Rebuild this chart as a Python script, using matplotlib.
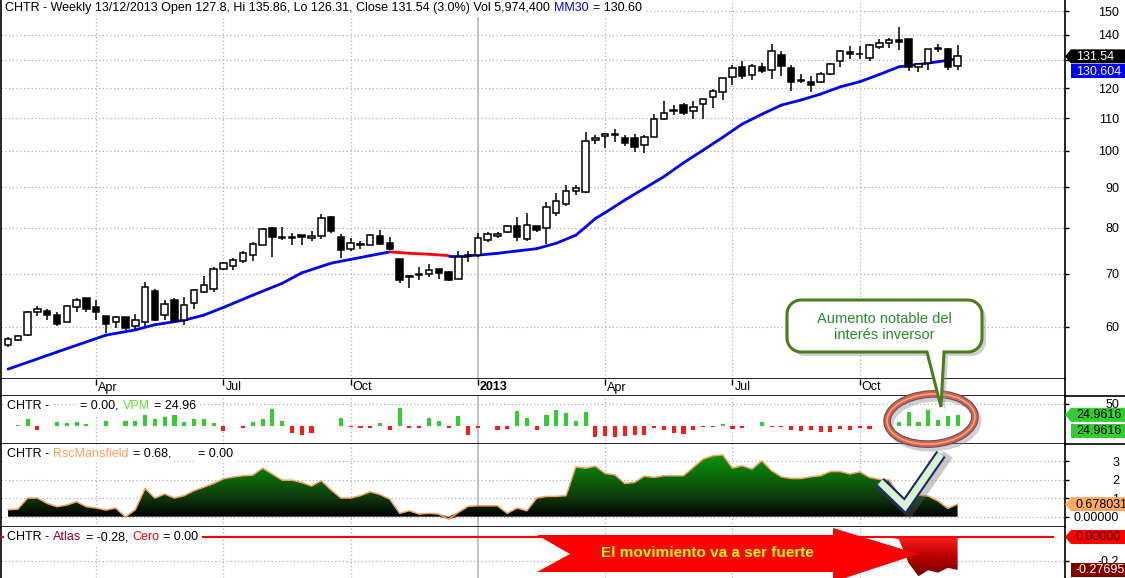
import numpy as np
import pandas as pd
import matplotlib
matplotlib.use("Agg")
import matplotlib.pyplot as plt
from matplotlib.patches import Polygon, Ellipse
from matplotlib.colors import LinearSegmentedColormap
from matplotlib.ticker import NullLocator, NullFormatter

plt.rcParams['font.family'] = ['Liberation Sans', 'DejaVu Sans']

W, H = 1125, 578

# CHTR weekly bars (Fridays, 3 Feb 2012 .. 13 Dec 2013)
dates = pd.date_range('2012-02-03', '2013-12-13', freq='W-FRI')

opens = [56.9, 57.7, 58.6, 62.6, 62.9, 62.2, 60.9, 63.6, 65.2, 63.5,
         61.9, 60.9, 61.7, 60.1, 60.9, 66.6, 62.1, 64.8, 61.3, 64.3,
         66.4, 67.0, 71.0, 71.7, 72.7, 73.9, 76.2, 80.0, 77.7, 77.8,
         78.3, 77.6, 78.2, 82.6, 77.8, 75.3, 76.3, 76.1, 78.1, 76.6,
         73.0, 69.3, 69.7, 70.0, 70.9, 70.4, 69.0, 73.7, 73.9, 77.2,
         78.2, 79.1, 80.4, 77.5, 80.4, 79.9, 83.5, 85.7, 88.9, 88.7,
         103.1, 104.3, 104.7, 103.8, 103.8, 101.6, 104.1, 109.6, 112.3, 114.2,
         112.2, 114.5, 117.0, 118.5, 123.9, 127.6, 124.5, 127.6, 126.4, 132.1,
         127.2, 122.6, 122.2, 122.1, 124.8, 129.6, 133.2, 132.4, 131.1, 135.1,
         136.8, 137.9, 138.2, 127.5, 129.0, 134.5, 134.3, 127.8]
highs = [58.3, 58.7, 62.9, 63.7, 63.3, 62.7, 63.9, 65.2, 65.3, 64.8,
         62.0, 62.0, 61.8, 62.3, 68.3, 66.9, 64.9, 65.2, 65.4, 66.9,
         69.6, 71.5, 72.5, 73.3, 74.8, 76.8, 80.0, 80.2, 80.2, 78.7,
         78.4, 79.3, 83.2, 82.7, 78.5, 77.6, 77.0, 78.5, 79.6, 78.0,
         73.1, 69.8, 71.5, 72.1, 71.0, 70.5, 74.8, 74.9, 78.7, 79.0,
         79.0, 80.7, 82.6, 83.4, 80.5, 86.2, 88.6, 90.6, 90.5, 105.6,
         104.8, 105.3, 106.5, 104.8, 105.1, 104.8, 111.2, 115.7, 114.3, 114.8,
         115.4, 116.3, 119.8, 123.7, 128.1, 129.7, 128.8, 129.2, 136.3, 133.6,
         128.1, 125.1, 124.1, 125.6, 129.0, 134.0, 135.6, 135.6, 136.3, 138.3,
         138.6, 143.3, 138.4, 129.0, 134.4, 136.5, 134.6, 135.86]
lows = [56.6, 57.6, 58.4, 62.0, 61.2, 60.2, 60.8, 62.7, 62.6, 61.2,
        58.9, 59.9, 59.4, 59.7, 60.1, 61.1, 61.3, 61.0, 60.3, 63.3,
        66.3, 66.4, 70.7, 70.7, 72.3, 72.7, 76.1, 73.6, 77.3, 76.2,
        76.0, 76.9, 77.5, 78.7, 73.3, 74.8, 75.2, 76.0, 76.2, 75.1,
        68.1, 67.1, 68.7, 69.4, 68.9, 68.6, 68.9, 72.5, 73.4, 76.7,
        77.7, 78.7, 76.9, 76.9, 79.1, 76.4, 82.8, 85.2, 88.0, 88.6,
        102.1, 100.8, 102.7, 101.3, 99.8, 99.4, 104.0, 109.5, 111.0, 111.0,
        109.6, 109.8, 113.4, 115.9, 121.0, 123.3, 123.0, 125.5, 123.3, 124.4,
        119.1, 121.9, 118.7, 121.9, 124.7, 127.5, 130.6, 130.6, 129.7, 134.5,
        134.6, 133.8, 126.0, 125.8, 126.4, 133.3, 126.4, 126.31]
closes = [57.9, 58.4, 62.6, 63.3, 62.2, 60.6, 63.8, 64.8, 63.2, 62.6,
          60.6, 61.7, 59.9, 61.3, 67.4, 61.3, 64.1, 61.1, 64.0, 66.8,
          67.8, 70.9, 72.2, 72.8, 74.3, 76.3, 79.8, 77.9, 77.9, 77.7,
          77.8, 78.1, 82.4, 79.2, 75.1, 76.5, 76.0, 78.4, 76.4, 75.2,
          68.7, 69.5, 69.9, 70.8, 70.2, 68.7, 73.5, 73.9, 77.6, 78.5,
          78.6, 80.5, 77.9, 80.6, 79.4, 84.9, 86.4, 88.9, 89.9, 102.9,
          103.8, 105.0, 104.9, 102.3, 101.0, 104.1, 109.6, 111.6, 112.6, 111.6,
          113.5, 116.2, 119.1, 123.6, 127.1, 124.1, 128.0, 126.0, 133.5, 127.9,
          122.1, 122.8, 121.0, 124.8, 128.5, 133.5, 132.5, 132.6, 135.8, 136.8,
          137.9, 137.2, 127.5, 128.5, 134.3, 134.7, 127.5, 131.54]

# MM30 read at these bar numbers
ma_idx = [0, 5, 10, 13, 15, 18, 20, 22, 25, 28, 30, 33, 35, 37, 39, 41, 43, 45, 47, 48,
          50, 52, 54, 56, 58, 59, 60, 61, 63, 65, 67, 69, 71, 73, 75, 77, 79, 81, 83, 85,
          87, 89, 91, 93, 95, 97]
ma_val = [53.1, 55.8, 58.6, 59.5, 60.4, 61.2, 62.1, 63.5, 65.8, 68.1, 70.2, 72.2, 73.0, 73.8,
          74.6, 74.3, 74.1, 73.8, 73.8, 73.9, 74.3, 74.8, 75.3, 76.5, 78.3, 80.2, 82.2, 83.6,
          86.7, 89.7, 92.8, 96.6, 100.2, 104.0, 108.1, 111.2, 114.2, 115.9, 117.9, 120.4,
          122.2, 124.8, 127.6, 128.5, 129.5, 130.6]

vpm = [-1.5, 2, 15, -9, 0, 7.7, 6, 8.4, 3.8, -1.5,
       10.8, 0, 10.8, 10.8, 29, 15.4, 20, 29, 7.7, 15.4,
       15.4, 6.1, -11.5, -1.5, -4.6, 8.4, 15.4, 38.4, 10.8, -16,
       -20.7, -16, -1.5, -1.5, 17.7, -2, -4.6, -4.6, 6.1, -9.2,
       40.7, -4.6, -4.6, 17.7, 10.8, -6.1, 22.3, -20.7, -4.6, -1.5,
       -9.2, -7, 34.6, 17.7, -9.2, 24.6, 36.9, 30, 11.5, 31.5,
       -25.3, -23, -25.3, -23, -20.7, -20.7, -4.6, -9.2, -16, -18.4,
       -9.2, -2.3, -2.3, 3.8, -7, -4.6, -1.5, 8.4, -2.3, -2.3,
       -9.2, -11.5, -9.2, -13.8, -13.8, -7, -9.2, -4.6, -7, -1.5,
       0, 9.2, 31.5, 8.4, 36, 13, 22.3, 24.96]

rsc = [0.38, 0.41, 1.01, 1.01, 0.72, 0.54, 0.63, 0.81, 0.54, 0.47,
       0.36, 0.47, -0.02, 0.38, 1.53, 1.01, 1.23, 1.01, 1.14, 1.41,
       1.60, 1.80, 2.05, 2.15, 2.22, 2.25, 2.63, 2.31, 1.98, 1.98,
       1.85, 1.66, 1.95, 1.45, 1.01, 1.01, 1.14, 1.35, 1.20, 0.95,
       0.18, 0.32, 0.14, 0.18, 0.14, -0.14, 0.23, 0.56, 0.59, 0.59,
       0.59, 0.18, 0.47, 0.32, 1.01, 1.10, 1.10, 1.14, 2.70, 2.63,
       2.74, 2.34, 2.27, 1.80, 1.86, 2.20, 2.13, 2.22, 2.22, 2.22,
       2.67, 3.12, 3.30, 3.35, 2.63, 2.76, 2.58, 3.03, 2.49, 2.16,
       2.07, 2.07, 2.16, 2.22, 2.45, 2.45, 2.31, 2.43, 2.13, 2.02,
       1.99, 1.20, 0.72, 1.17, 1.12, 0.85, 0.45, 0.68]

atlas = [0.0] * 91 + [-0.02, -0.22, -0.33, -0.28, -0.30, -0.26, -0.277]

fig = plt.figure(figsize=(W / 100, H / 100), dpi=100)
fig.patch.set_facecolor('white')


def panel(top, bottom):
    return fig.add_axes([1 / W, 1 - bottom / H, 1064 / W, (bottom - top) / H])


ax_p = panel(0, 379)
ax_d = panel(379, 396)
ax_v = panel(396, 444)
ax_r = panel(444, 527)
ax_a = panel(527, 578)
panels = [ax_p, ax_v, ax_r, ax_a]

x = np.arange(len(dates))
XMIN, XMAX = -0.72, 107.97
GRID = '#b0b0b0'
DOT = (0, (1, 2))

months = dates.month
qpos = [i for i in range(1, len(dates)) if months[i] != months[i - 1] and months[i] in (1, 4, 7, 10)]
qlab = [str(dates[i].year) if months[i] == 1 else dates[i].strftime('%b') for i in qpos]

for ax in [ax_p, ax_d, ax_v, ax_r, ax_a]:
    ax.set_xlim(XMIN, XMAX)
    ax.set_xticks([])
    ax.spines['top'].set_visible(False)
    for s in ('left', 'right', 'bottom'):
        ax.spines[s].set_color('black')
        ax.spines[s].set_linewidth(1.2)
    ax.yaxis.tick_right()
    ax.tick_params(axis='y', direction='out', length=3, width=1, labelsize=9, pad=36,
                   colors='black')
ax_a.spines['bottom'].set_visible(False)

for ax in panels:
    for q, lab in zip(qpos, qlab):
        if lab.isdigit():
            ax.axvline(q, color='#c4c4c4', lw=1.5, zorder=0)
        else:
            ax.axvline(q, color=GRID, lw=0.9, ls=DOT, zorder=0)

# ---- price panel ----
ax_p.set_yscale('log')
ax_p.set_ylim(51.6, 154.9)
pt = list(range(60, 151, 10))
ax_p.set_yticks(pt)
# 130 sits under the close / MM30 tags
ax_p.set_yticklabels(['' if v == 130 else str(v) for v in pt])
ax_p.yaxis.set_minor_locator(NullLocator())
ax_p.yaxis.set_minor_formatter(NullFormatter())
for v in pt:
    ax_p.axhline(v, color=GRID, lw=0.9, ls=DOT, zorder=0)

o, h, l, c = map(np.array, (opens, highs, lows, closes))
up = c >= o
mx, my = np.array(ma_idx), np.array(ma_val)
for k in range(len(mx) - 1):
    falling = mx[k] >= 39 and mx[k + 1] <= 45
    ax_p.plot(mx[k:k + 2], my[k:k + 2], color='#ff0000' if falling else '#0000ff',
              lw=2, solid_capstyle='round', zorder=2)
ax_p.vlines(x, l, h, color='black', lw=1.1, zorder=3)
ax_p.bar(x, np.abs(c - o), bottom=np.minimum(o, c), width=0.66,
         color=np.where(up, 'white', 'black'), edgecolor='black', lw=1.1, zorder=4)

# ---- date strip ----
ax_d.set_ylim(0, 1)
ax_d.set_yticks([])
ax_d.set_xticks(qpos)
ax_d.tick_params(axis='x', top=True, bottom=False, direction='in', length=4, width=1,
                 labelbottom=False, labeltop=False)
for q, lab in zip(qpos, qlab):
    ax_d.text(q + 0.2, 0.5, lab, fontsize=9, ha='left', va='center',
              fontweight='bold' if lab.isdigit() else 'normal')

# ---- VPM ----
v = np.array(vpm)
ax_v.set_ylim(-42.2, 68.4)
ax_v.set_yticks([50])
ax_v.set_yticklabels(['50'])
ax_v.axhline(50, color=GRID, lw=0.9, ls=DOT, zorder=0)
ax_v.bar(x, v, width=0.42, color=np.where(v >= 0, '#33cc33', '#ff1a1a'), zorder=3)

# ---- RscMansfield ----
r = np.array(rsc)
grad = np.linspace(0, 1, 256).reshape(-1, 1)
green_cm = LinearSegmentedColormap.from_list('rsc', ['#000000', '#103c0e', '#0a6e0a', '#0c960c'])
body = ax_r.fill_between(x, 0, np.clip(r, 0, None), facecolor='none', edgecolor='none')
im = ax_r.imshow(grad, extent=(x[0], x[-1], 0, 3.4), origin='lower', aspect='auto',
                 cmap=green_cm, zorder=2)
im.set_clip_path(body.get_paths()[0], transform=ax_r.transData)
ax_r.fill_between(x, 0, np.clip(r, None, 0), facecolor='#6a1a00', edgecolor='none', zorder=2)
ax_r.plot(x, r, color='#f4a460', lw=1.1, zorder=3)
ax_r.set_xlim(XMIN, XMAX)
ax_r.set_ylim(-0.56, 3.94)
ax_r.set_yticks([0, 1, 2, 3])
ax_r.set_yticklabels(['0.00000', '1', '2', '3'])
for v0 in [0, 1, 2, 3]:
    ax_r.axhline(v0, color=GRID, lw=0.9, ls=DOT, zorder=0)

# ---- Atlas ----
a = np.array(atlas)
red_cm = LinearSegmentedColormap.from_list('atl', ['#6a0000', '#b80000', '#ff2020'])
ab = ax_a.fill_between(x, a, 0, facecolor='none', edgecolor='none')
im2 = ax_a.imshow(grad, extent=(x[0], x[-1], -0.345, 0), origin='lower', aspect='auto',
                  cmap=red_cm, zorder=2)
im2.set_clip_path(ab.get_paths()[0], transform=ax_a.transData)
ax_a.set_xlim(XMIN, XMAX)
ax_a.set_ylim(-0.345, 0.084)
ax_a.set_yticks([-0.2, 0.0])
ax_a.set_yticklabels(['-0.2', ''])
ax_a.axhline(-0.2, color=GRID, lw=0.9, ls=DOT, zorder=0)
ax_a.axhline(0, xmax=0.989, color='#ff0000', lw=1.5, zorder=3)

for ax in panels:
    for t in ax.yaxis.get_major_ticks():
        t.label2.set_horizontalalignment('right')

# ---- overlay in pixel coordinates ----
ax_o = fig.add_axes([0, 0, 1, 1], zorder=10)
ax_o.set_xlim(0, W)
ax_o.set_ylim(H, 0)
ax_o.axis('off')


def py(ax, val):
    return H - ax.transData.transform((0, val))[1]


def tag(yc, text, face, tcol, arrow=True, hh=7):
    pts = [(1071, yc - hh), (1126, yc - hh), (1126, yc + hh), (1071, yc + hh)]
    if arrow:
        pts.append((1065, yc))
    ax_o.add_patch(Polygon(pts, closed=True, facecolor=face, edgecolor='none', zorder=5))
    ax_o.text(1076, yc + 0.5, text, color=tcol, fontsize=9, ha='left', va='center', zorder=6)


y_close = py(ax_p, closes[-1])
tag(y_close, '131.54', 'black', 'white')
tag(y_close + 15, '130.604', '#0000ff', 'white', arrow=False)
y_v = py(ax_v, vpm[-1])
tag(y_v, '24.9616', '#33cc33', 'black')
tag(y_v + 16, '24.9616', '#33cc33', 'black', arrow=False)
tag(py(ax_r, rsc[-1]), '0.678031', '#ffaa5e', 'black')
tag(py(ax_a, 0), '0.00000', '#ff0000', '#3a0000')
tag(py(ax_a, atlas[-1]), '-0.276957', '#800000', 'white', arrow=False)

for yy in (396, 444):
    ax_o.plot([1065, W], [yy, yy], color='black', lw=1.2)

hdr = dict(fontsize=9, va='center', ha='left',
           bbox=dict(boxstyle='square,pad=0.25', fc='white', ec='none'))


def chain(x0, y, parts):
    t = ax_o.text(x0, y, parts[0][0], color=parts[0][1], **hdr)
    for s, col in parts[1:]:
        t = ax_o.annotate(s, xy=(1, 0.5), xycoords=t, xytext=(3, 0),
                          textcoords='offset points', color=col, **hdr)
    return t


chain(5, 8, [("CHTR - Weekly 13/12/2013 Open 127.8, Hi 135.86, Lo 126.31, Close 131.54 (3.0%) "
              "Vol 5,974,400", 'black'), ("MM30", '#0000ff'), ("= 130.60", 'black')])
chain(7, 406, [("CHTR -", 'black')])
chain(80, 406, [("= 0.00,", 'black'), ("VPM", '#66dd33'), ("= 24.96", 'black')])
chain(7, 454, [("CHTR -", 'black'), ("RscMansfield", '#f8a25a'), ("= 0.68,", 'black')])
chain(198, 454, [("= 0.00", 'black')])
chain(7, 537, [("CHTR -", 'black'), ("Atlas", '#990030'), ("= -0.28,", 'black'),
               ("Cero", '#ff0000'), ("= 0.00", 'black')])

# red arrow with message
arrow_pts = [(537, 535), (833, 535), (833, 528), (918, 554), (833, 582), (833, 572),
             (537, 572), (570, 554)]
ax_o.add_patch(Polygon(arrow_pts, closed=True, facecolor='#ff0000', edgecolor='none', zorder=6))
ax_o.text(707, 553, 'El movimiento va a ser fuerte', color='#ffff00', fontsize=11,
          fontweight='bold', ha='center', va='center', zorder=7)

# check mark
chk = [(880, 482), (905, 506), (941, 454)]
ax_o.plot([p[0] + 4 for p in chk], [p[1] + 5 for p in chk], color='#666666', alpha=0.35,
          lw=8, solid_joinstyle='miter', zorder=6)
ax_o.plot(*zip(*chk), color='#1d2770', lw=8, solid_joinstyle='miter', solid_capstyle='butt', zorder=7)
ax_o.plot(*zip(*chk), color='#d9f5cf', lw=5, solid_joinstyle='miter', solid_capstyle='butt', zorder=7)

# ellipse around last VPM bars
ax_o.add_patch(Ellipse((934, 423), 88, 50, angle=-4, fill=False, edgecolor='#888888',
                       lw=5, alpha=0.4, zorder=7))
ax_o.add_patch(Ellipse((931, 419), 88, 50, angle=-4, fill=False, edgecolor='#5a4a80', lw=5.5, zorder=7))
ax_o.add_patch(Ellipse((931, 419), 88, 50, angle=-4, fill=False, edgecolor='#d8603c', lw=4, zorder=7))
ax_o.add_patch(Ellipse((931, 419), 88, 50, angle=-4, fill=False, edgecolor='#f5a585', lw=1.2, zorder=7))


# callout bubble
def bubble(x0, y0, x1, y1, rad, tail):
    pts = []

    def arc(cx, cy, a0, a1):
        for t in np.radians(np.linspace(a0, a1, 8)):
            pts.append((cx + rad * np.cos(t), cy + rad * np.sin(t)))

    arc(x1 - rad, y0 + rad, -90, 0)
    arc(x1 - rad, y1 - rad, 0, 90)
    pts.extend(tail)
    arc(x0 + rad, y1 - rad, 90, 180)
    arc(x0 + rad, y0 + rad, 180, 270)
    return pts


bpts = bubble(787, 300, 982, 352, 14, [(944, 352), (941, 407), (927, 352)])
ax_o.add_patch(Polygon([(px + 4, py_ + 4) for px, py_ in bpts], closed=True,
                       facecolor='#999999', alpha=0.45, edgecolor='none', zorder=8))
ax_o.add_patch(Polygon(bpts, closed=True, facecolor='white', edgecolor='#4a7d1c', lw=2.2, zorder=9))
ax_o.text(884, 327, "Aumento notable del\ninterés inversor", ha='center', va='center',
          color='#2a8a2a', fontsize=10.5, linespacing=1.2, zorder=10)

fig.savefig('out.png', dpi=100)
